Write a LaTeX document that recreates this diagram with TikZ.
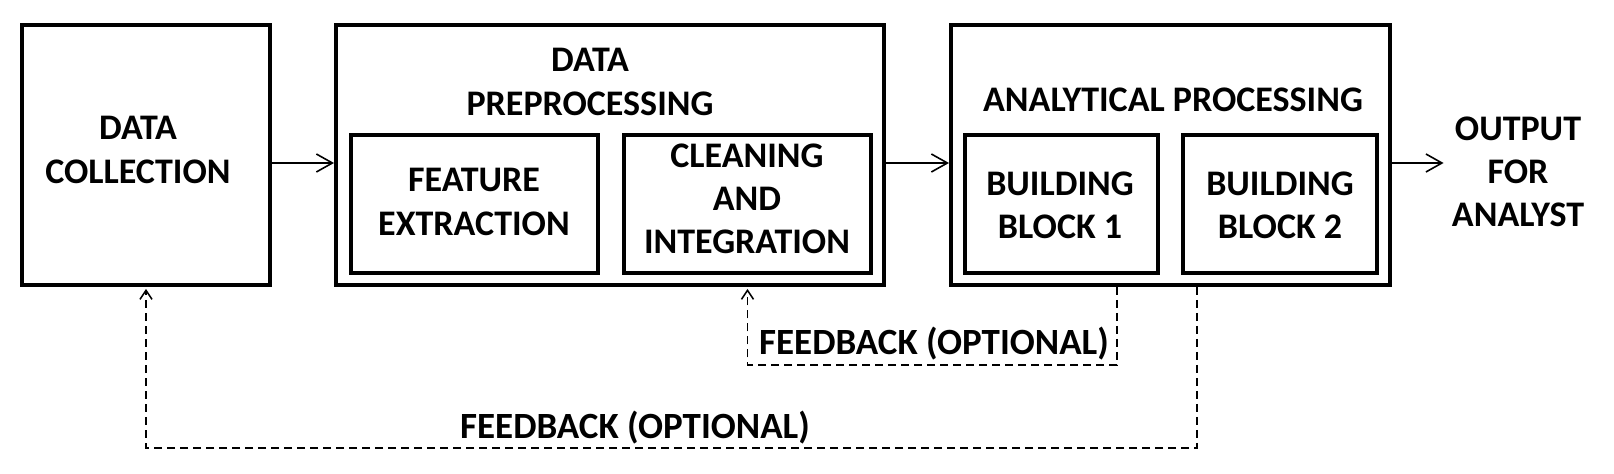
\documentclass[tikz,border=0pt]{standalone}
\usepackage{fontspec}
\setmainfont{Carlito}
\usepackage{tikz}
\usetikzlibrary{arrows.meta}
\usetikzlibrary{positioning}
\usetikzlibrary{calc}
\tikzset{
    subblock/.style={draw=black, line width=2pt, inner sep=0pt},
    label/.style={font=\fontsize{18}{21.6}\selectfont\bfseries, align=center, inner sep=4pt},
    fblabel/.style={font=\fontsize{18.5}{22}\selectfont\bfseries, inner sep=0pt},
    flow/.style={draw=black, line width=0.8pt, -{Straight Barb[length=8pt,width=9pt]}},
    feedback/.style={draw=black, line width=0.75pt, dash pattern=on 4pt off 2.5pt,
        -{Straight Barb[length=4.5pt,width=6pt]}},
}
\begin{document}
\begin{tikzpicture}[x=0.5pt, y=-0.5pt]
	\useasboundingbox (0,0) rectangle (1614,474);
	% main blocks
	\node[subblock, minimum width=124pt, minimum height=130pt] (dc) at (146,155) {};
	\node[subblock, minimum width=274pt, minimum height=130pt] (dp) at (610,155) {};
	\node[subblock, minimum width=219.5pt, minimum height=130pt] (ap) at (1170.5,155) {};
	% inner blocks
	\node[subblock, minimum width=123.5pt, minimum height=69pt] (fe) at (474.5,204) {};
	\node[subblock, minimum width=123.5pt, minimum height=69pt] (ci) at (747.5,204) {};
	\node[subblock, minimum width=96.5pt, minimum height=69pt] (bb1) at (1061.5,204) {};
	\node[subblock, minimum width=97pt, minimum height=69pt] (bb2) at (1280,204) {};
	% texts
	\node[label] (dctext) at (138,150) {DATA\\COLLECTION};
	\node[label] (dptext) at (590,82) {DATA\\PREPROCESSING};
	\node[label] (aptext) at (1173,100) {ANALYTICAL PROCESSING};
	\node[label] (fetext) at (474,202) {FEATURE\\EXTRACTION};
	\node[label] (citext) at (747,199) {CLEANING\\AND\\INTEGRATION};
	\node[label] (bb1text) at (1060,205) {BUILDING\\BLOCK 1};
	\node[label] (bb2text) at (1280,205) {BUILDING\\BLOCK 2};
	\node[label] (out) at (1518,172) {OUTPUT\\FOR\\ANALYST};
	% forward flow
	\draw[flow] ([yshift=-4pt]dc.east) -- ([yshift=-4pt]dp.west);
	\draw[flow] ([yshift=-4pt]dp.east) -- ([yshift=-4pt]ap.west);
	\coordinate (outin) at ([yshift=-4pt]ap.east -| out.west);
	\draw[flow] ([yshift=-4pt]ap.east) -- (outin);
	% feedback loops
	\coordinate (fb1) at (ap.south -| 1117,0);
	\coordinate (fb2) at (ap.south -| 1197,0);
	\draw[feedback] (fb1) -- (1117,365) -| ([yshift=-1pt]ci.south |- dp.south);
	\draw[feedback] (fb2) -- (1197,448) -| ([yshift=-1pt]dc.south);
	\node[fblabel] (fbshort) at (934,344) {FEEDBACK (OPTIONAL)};
	\node[fblabel] (fblong) at (635,428) {FEEDBACK (OPTIONAL)};
\end{tikzpicture}
\end{document}
